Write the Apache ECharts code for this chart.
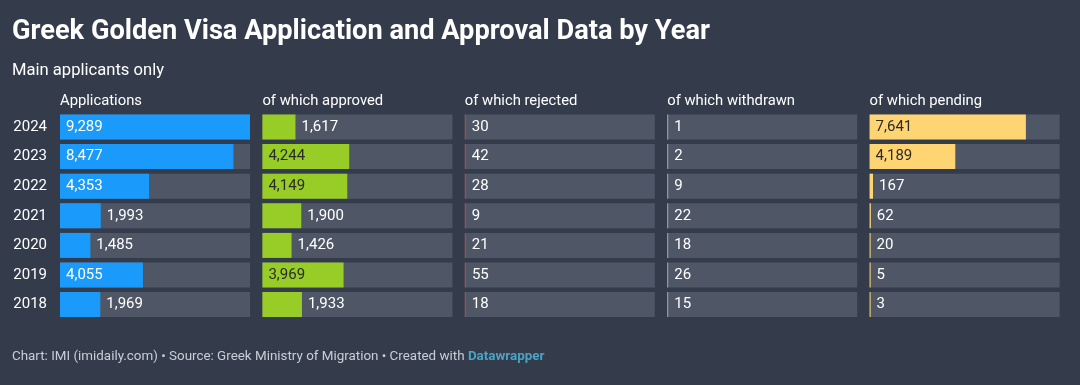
<!DOCTYPE html>
<html><head><meta charset="utf-8">
<script src="https://cdn.jsdelivr.net/npm/echarts@6/dist/echarts.min.js"></script>
<style>html,body{margin:0;padding:0;background:#343c4c;}#c{width:1080px;height:385px;}</style>
</head><body><div id="c"></div>
<script>
const years = ['2024','2023','2022','2021','2020','2019','2018'];
const columnTitles = ['Applications','of which approved','of which rejected','of which withdrawn','of which pending'];
const applications = [9289, 8477, 4353, 1993, 1485, 4055, 1969];
const approved = [1617, 4244, 4149, 1900, 1426, 3969, 1933];
const rejected = [30, 42, 28, 9, 21, 55, 18];
const withdrawn = [1, 2, 9, 22, 18, 26, 15];
const pending = [7641, 4189, 167, 62, 20, 5, 3];

const columns = [applications, approved, rejected, withdrawn, pending];
const barColors = ['#1a9bfc', '#98cc26', '#c0444f', '#a8a8a8', '#ffd573'];
const insideText = ['#ffffff', '#2b2b2b', '#2b2b2b', '#2b2b2b', '#2b2b2b'];
const maxVal = Math.max(...applications);

const colLeft = 60, colW = 190, colPitch = 202.4;
const gridTop = 112.2, gridH = 207.2;
const trackColor = '#4f5767';
const fmt = v => v.toLocaleString('en-US');
const FF = 'Roboto';

const grids = [], xAxes = [], yAxes = [], series = [], titles = [];
titles.push({text:'Greek Golden Visa Application and Approval Data by Year', left:12, top:19, padding:0,
  textStyle:{color:'#ffffff', fontFamily:FF, fontWeight:'bold', fontSize:27.2}});
titles.push({text:'Main applicants only', left:12, top:62, padding:0,
  textStyle:{color:'#ffffff', fontFamily:FF, fontWeight:'normal', fontSize:16.6}});
titles.push({text:'Chart: IMI (imidaily.com) • Source: Greek Ministry of Migration • Created with {b|Datawrapper}', left:12, top:350, padding:0,
  textStyle:{color:'#c9ced6', fontFamily:FF, fontWeight:'normal', fontSize:13.4,
    rich:{b:{color:'#4aa3c4', fontWeight:'bold', fontFamily:FF, fontSize:13.4}}}});

columns.forEach((vals, i) => {
  const left = colLeft + i * colPitch;
  grids.push({left:left, top:gridTop, width:colW, height:gridH});
  titles.push({text:columnTitles[i], left:left, top:94, padding:0,
    textStyle:{color:'#ffffff', fontFamily:FF, fontWeight:'normal', fontSize:14.8}});
  xAxes.push({gridIndex:i, type:'value', min:0, max:maxVal, show:false});
  yAxes.push({gridIndex:i, type:'category', data:years, inverse:true,
    axisLine:{show:false}, axisTick:{show:false}, splitLine:{show:false},
    axisLabel:{show:i===0, color:'#ffffff', fontFamily:FF, fontSize:15, margin:13}});
  series.push({type:'bar', xAxisIndex:i, yAxisIndex:i, barWidth:25, silent:true,
    data: vals.map(() => maxVal), itemStyle:{color:trackColor}, z:1, animation:false});
  series.push({type:'bar', xAxisIndex:i, yAxisIndex:i, barWidth:25, barGap:'-100%', barMinHeight:1,
    animation:false, z:2,
    itemStyle:{color:barColors[i]},
    data: vals.map(v => {
      const px = v / maxVal * colW;
      const inside = px > 55;
      return {value:v, label:{show:true, position: inside ? 'insideLeft' : 'right', distance:6,
        color: inside ? insideText[i] : '#ffffff', fontFamily:FF, fontSize:15,
        formatter: p => fmt(p.value)}};
    })
  });
});

const chart = echarts.init(document.getElementById('c'), null, {renderer:'canvas'});
chart.setOption({backgroundColor:'#343c4c', animation:false, title:titles, grid:grids, xAxis:xAxes, yAxis:yAxes, series:series});
</script>
</body></html>
